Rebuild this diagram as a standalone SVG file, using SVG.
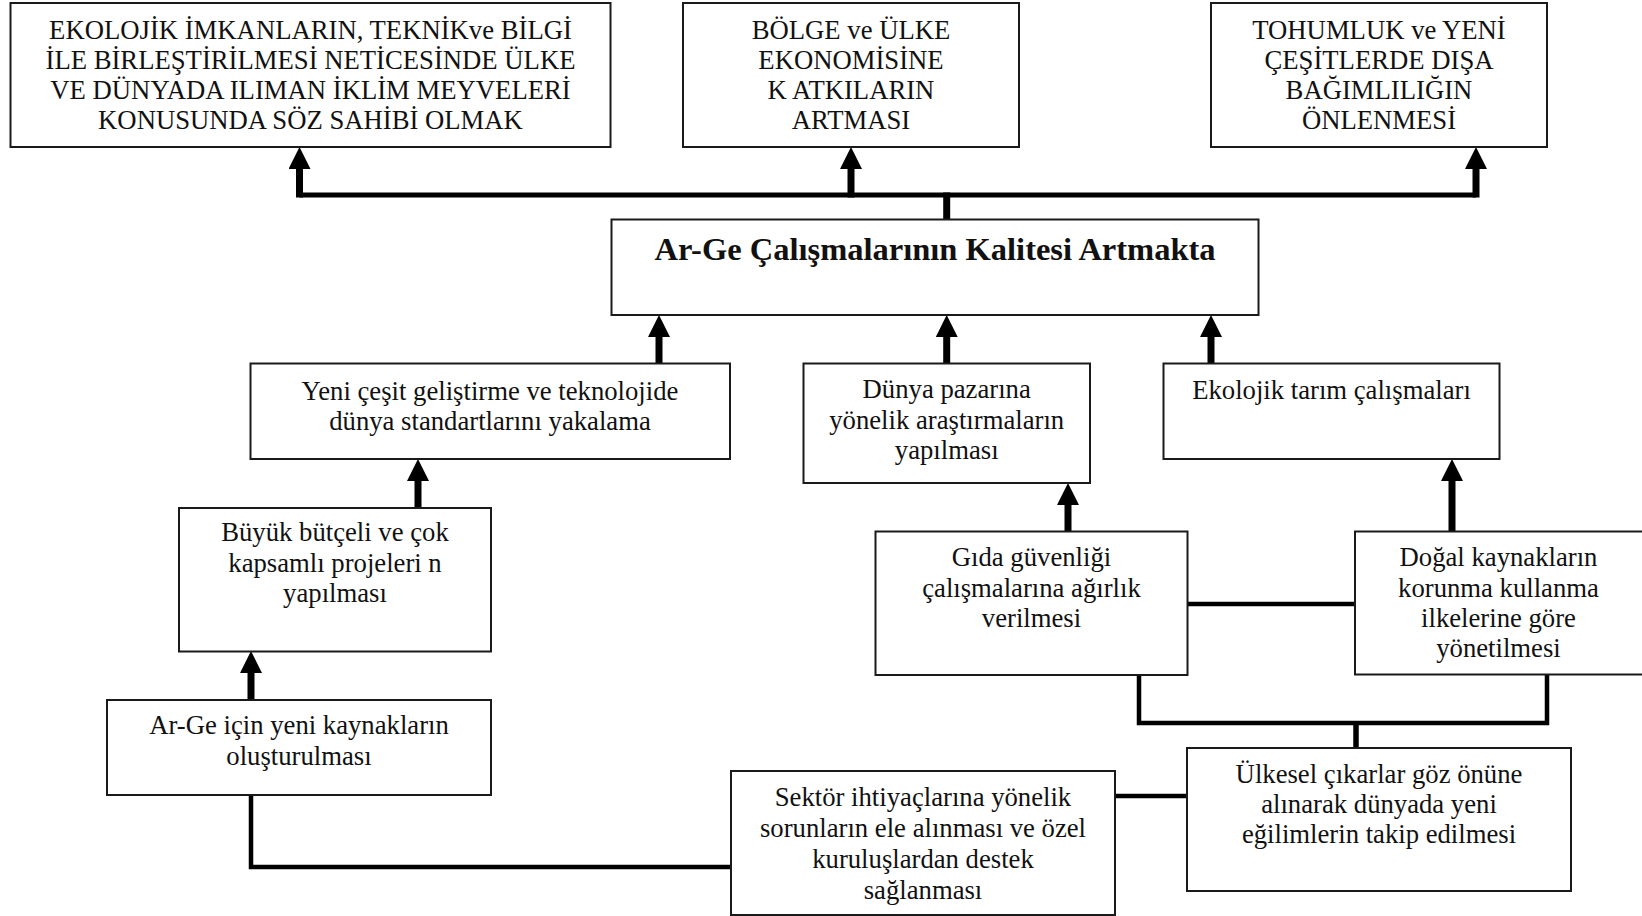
<svg xmlns="http://www.w3.org/2000/svg" width="1642" height="916" viewBox="0 0 1642 916">
  <style>
    .box { fill: #ffffff; stroke: #1a1a1a; stroke-width: 2; }
    .t { font-family: "Liberation Serif", "Times New Roman", serif; font-size: 26.7px; fill: #111111; text-anchor: middle; }
    .title { font-weight: bold; font-size: 32.5px; }
    .arrow { stroke: #000000; stroke-width: 7; fill: none; marker-end: url(#head); }
    .link { stroke: #000000; stroke-width: 4.5; fill: none; }
    .trunk { stroke: #000000; stroke-width: 5; fill: none; }
  </style>
  <defs>
    <marker id="head" markerUnits="userSpaceOnUse" markerWidth="22" markerHeight="22" viewBox="0 0 22 22" refX="0" refY="11" orient="auto">
      <path d="M0,0 L22,11 L0,22 z" fill="#000000"/>
    </marker>
  </defs>
  <rect width="1642" height="916" fill="#ffffff"/>

  <!-- connectors -->
  <g id="connectors">
    <!-- top distribution bar -->
    <path class="trunk" d="M299.5,195 H1476"/>
    <path class="trunk" d="M946.7,219 V192.5" style="stroke-width:7"/>
    <path class="arrow" d="M299.5,197.5 V169"/>
    <path class="arrow" d="M851,197.5 V169"/>
    <path class="arrow" d="M1476,197.5 V169"/>
    <!-- into the central box -->
    <path class="arrow" d="M659,363 V337"/>
    <path class="arrow" d="M946.7,363 V337"/>
    <path class="arrow" d="M1211,363 V337"/>
    <!-- lower chains -->
    <path class="arrow" d="M418,508 V481"/>
    <path class="arrow" d="M251,700 V673"/>
    <path class="arrow" d="M1068,531 V505"/>
    <path class="arrow" d="M1452,531 V481"/>
    <!-- plain links -->
    <path class="link" d="M1187.5,604 H1355"/>
    <path class="link" d="M1139,675 V723 H1547 V675"/>
    <path class="link" d="M1356,723 V748" style="stroke-width:5.5"/>
    <path class="link" d="M1115,796 H1187"/>
    <path class="link" d="M251,795 V867 H731"/>
  </g>

  <g id="node-ekolojik-imkan">
    <rect class="box" x="10.5" y="3" width="600" height="144"/>
    <text class="t" x="310.5" y="39">EKOLOJİK İMKANLARIN, TEKNİKve BİLGİ</text>
    <text class="t" x="310.5" y="69">İLE BİRLEŞTİRİLMESİ NETİCESİNDE ÜLKE</text>
    <text class="t" x="310.5" y="99">VE DÜNYADA ILIMAN İKLİM MEYVELERİ</text>
    <text class="t" x="310.5" y="129">KONUSUNDA SÖZ SAHİBİ OLMAK</text>
  </g>

  <g id="node-ekonomi">
    <rect class="box" x="683" y="3" width="336" height="144"/>
    <text class="t" x="851" y="39">BÖLGE ve ÜLKE</text>
    <text class="t" x="851" y="69">EKONOMİSİNE</text>
    <text class="t" x="851" y="99">K ATKILARIN</text>
    <text class="t" x="851" y="129">ARTMASI</text>
  </g>

  <g id="node-tohumluk">
    <rect class="box" x="1211" y="3" width="336" height="144"/>
    <text class="t" x="1379" y="39">TOHUMLUK ve YENİ</text>
    <text class="t" x="1379" y="69">ÇEŞİTLERDE DIŞA</text>
    <text class="t" x="1379" y="99">BAĞIMLILIĞIN</text>
    <text class="t" x="1379" y="129">ÖNLENMESİ</text>
  </g>

  <g id="node-arge-kalite">
    <rect class="box" x="611.5" y="219.5" width="647" height="95.5"/>
    <text class="t title" x="935" y="260">Ar-Ge Çalışmalarının Kalitesi Artmakta</text>
  </g>

  <g id="node-yeni-cesit">
    <rect class="box" x="250.5" y="363.5" width="479.5" height="95.5"/>
    <text class="t" x="490" y="400">Yeni çeşit geliştirme ve teknolojide</text>
    <text class="t" x="490" y="430">dünya standartlarını yakalama</text>
  </g>

  <g id="node-dunya-pazari">
    <rect class="box" x="803.5" y="363.5" width="286.5" height="119.5"/>
    <text class="t" x="946.7" y="398">Dünya pazarına</text>
    <text class="t" x="946.7" y="429">yönelik araştırmaların</text>
    <text class="t" x="946.7" y="459">yapılması</text>
  </g>

  <g id="node-ekolojik-tarim">
    <rect class="box" x="1163.5" y="363.5" width="336" height="95.5"/>
    <text class="t" x="1331.5" y="399">Ekolojik tarım çalışmaları</text>
  </g>

  <g id="node-buyuk-butce">
    <rect class="box" x="179" y="508" width="312" height="143.5"/>
    <text class="t" x="335" y="541">Büyük bütçeli ve çok</text>
    <text class="t" x="335" y="572">kapsamlı projeleri n</text>
    <text class="t" x="335" y="602">yapılması</text>
  </g>

  <g id="node-yeni-kaynak">
    <rect class="box" x="107" y="700" width="384" height="95"/>
    <text class="t" x="299" y="734">Ar-Ge için yeni kaynakların</text>
    <text class="t" x="299" y="765">oluşturulması</text>
  </g>

  <g id="node-gida">
    <rect class="box" x="875.5" y="531.5" width="312" height="143.5"/>
    <text class="t" x="1031.5" y="566">Gıda güvenliği</text>
    <text class="t" x="1031.5" y="597">çalışmalarına ağırlık</text>
    <text class="t" x="1031.5" y="627">verilmesi</text>
  </g>

  <g id="node-dogal-kaynak">
    <rect class="box" x="1355" y="531.5" width="300" height="143"/>
    <text class="t" x="1498.5" y="566">Doğal kaynakların</text>
    <text class="t" x="1498.5" y="597">korunma kullanma</text>
    <text class="t" x="1498.5" y="627">ilkelerine göre</text>
    <text class="t" x="1498.5" y="657">yönetilmesi</text>
  </g>

  <g id="node-ulkesel">
    <rect class="box" x="1187" y="748" width="384" height="143"/>
    <text class="t" x="1379" y="783">Ülkesel çıkarlar göz önüne</text>
    <text class="t" x="1379" y="813">alınarak dünyada yeni</text>
    <text class="t" x="1379" y="843">eğilimlerin takip edilmesi</text>
  </g>

  <g id="node-sektor">
    <rect class="box" x="731" y="771" width="384" height="144"/>
    <text class="t" x="923" y="806">Sektör ihtiyaçlarına yönelik</text>
    <text class="t" x="923" y="837">sorunların ele alınması ve özel</text>
    <text class="t" x="923" y="868">kuruluşlardan destek</text>
    <text class="t" x="923" y="899">sağlanması</text>
  </g>
</svg>
